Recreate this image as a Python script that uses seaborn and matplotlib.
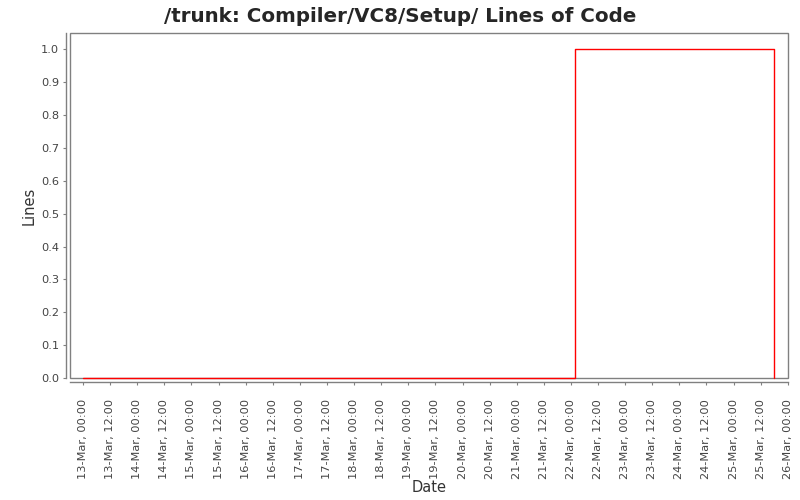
import pandas as pd
import numpy as np
import matplotlib.pyplot as plt
import matplotlib.dates as mdates
from matplotlib.patches import Rectangle
import seaborn as sns

# Lines of code over time (step series)
dates = ['2007-03-13 00:00', '2007-03-22 01:40', '2007-03-25 18:00']
lines = [0, 1, 0]

data = pd.DataFrame({'Date': pd.to_datetime(dates), 'Lines': lines})

sns.set_style('white')
plt.rcParams['font.family'] = ['DejaVu Sans']

fig = plt.figure(figsize=(8, 5), dpi=100)
ax = fig.add_axes([0.0875, 0.244, 0.8975, 0.690])

sns.lineplot(x='Date', y='Lines', data=data, ax=ax, color='red',
             drawstyle='steps-post', linewidth=1, zorder=3)
for ln in ax.lines:
    ln.set_clip_on(False)

ax.set_xlim(pd.Timestamp('2007-03-12 18:15'), pd.Timestamp('2007-03-26 00:05'))
ax.set_ylim(0, 1.05)
ax.set_yticks(np.arange(0, 1.01, 0.1))
ax.yaxis.set_major_formatter(plt.FormatStrFormatter('%.1f'))
ax.xaxis.set_major_locator(mdates.HourLocator(byhour=[0, 12]))
ax.xaxis.set_major_formatter(mdates.DateFormatter('%d-%b, %H:%M'))

for side in ['top', 'right']:
    ax.spines[side].set_visible(False)
for side in ['left', 'bottom']:
    ax.spines[side].set_position(('outward', 3))
    ax.spines[side].set_color('gray')
    ax.spines[side].set_linewidth(1)
ax.add_patch(Rectangle((0, 0), 1, 1, transform=ax.transAxes, fill=False,
                       edgecolor='gray', linewidth=1, clip_on=False, zorder=1))

ax.tick_params(axis='both', which='major', length=2, width=0.8, color='gray',
               labelsize=8.2, labelcolor='#444444', direction='out',
               bottom=True, left=True)
ax.tick_params(axis='x', pad=10)
ax.tick_params(axis='y', pad=3)
plt.setp(ax.get_xticklabels(), rotation=90)

ax.set_xlabel('Date', fontsize=10.5, color='#333333', labelpad=1)
ax.set_ylabel('Lines', fontsize=10.5, color='#333333', labelpad=3)
fig.suptitle('/trunk: Compiler/VC8/Setup/ Lines of Code', fontsize=14.3,
             fontweight='bold', y=0.985)

fig.savefig('out.png', dpi=100)
